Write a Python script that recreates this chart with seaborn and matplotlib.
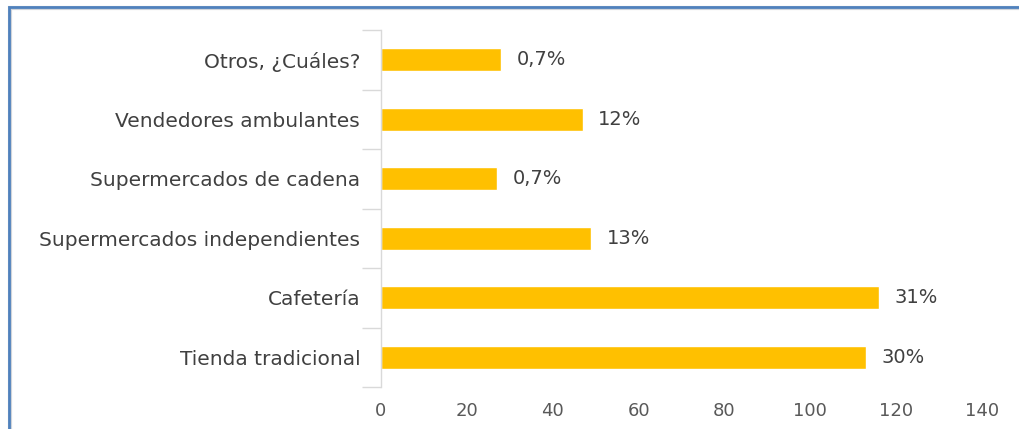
import matplotlib
matplotlib.use("Agg")
import matplotlib.pyplot as plt
from matplotlib.patches import Rectangle
import seaborn as sns
import pandas as pd
import numpy as np

categories = ["Otros, ¿Cuáles?", "Vendedores ambulantes", "Supermercados de cadena",
              "Supermercados independientes", "Cafetería", "Tienda tradicional"]
values = [28, 47, 27, 49, 116, 113]
labels = ["0,7%", "12%", "0,7%", "13%", "31%", "30%"]
xticks = [0, 20, 40, 60, 80, 100, 120, 140]

sns.set_theme(style="white")
plt.rcParams['font.family'] = ['DejaVu Sans']

df = pd.DataFrame({"cat": categories, "val": values})

fig = plt.figure(figsize=(10.2, 4.29), dpi=100)
ax = fig.add_axes([381/1020, 1-387/429, 601/1020, 357/429])
sns.barplot(data=df, y="cat", x="val", color="#FFC000", saturation=1, width=0.38, ax=ax)

ax.set_xlim(0, 140)
ax.set_ylim(len(categories)-0.5, -0.5)
ax.set_xticks(xticks)
ax.set_xticklabels([str(t) for t in xticks], fontsize=13, color="#595959")
ax.tick_params(axis='x', length=0, pad=11)
ax.set_yticks(range(len(categories)))
ax.set_yticklabels(categories, fontsize=14.5, color="#404040")
ax.tick_params(axis='y', which='major', left=False, length=0, pad=15)
ax.set_yticks(np.arange(-0.5, len(categories), 1), minor=True)
ax.tick_params(axis='y', which='minor', left=True, length=14, width=1, color="#D9D9D9")
ax.set_xlabel("")
ax.set_ylabel("")
for s in ["top", "right", "bottom"]:
    ax.spines[s].set_visible(False)
ax.spines["left"].set_color("#D9D9D9")
ax.spines["left"].set_linewidth(1)

for i, (v, lab) in enumerate(zip(values, labels)):
    ax.text(v + 3.6, i, lab, va="center", ha="left", fontsize=14, color="#404040")

# outer frame (extends beyond right/bottom edges)
fig.patches.append(Rectangle((10/1020, -0.1), 1.2, (1-8/429)+0.1, transform=fig.transFigure,
                             fill=False, edgecolor="#D0D4DA", linewidth=3, zorder=0))
fig.patches.append(Rectangle((9/1020, -0.1), 1.2, (1-7/429)+0.1, transform=fig.transFigure,
                             fill=False, edgecolor="#4F81BD", linewidth=2, zorder=1))

fig.savefig("out.png", dpi=100)
